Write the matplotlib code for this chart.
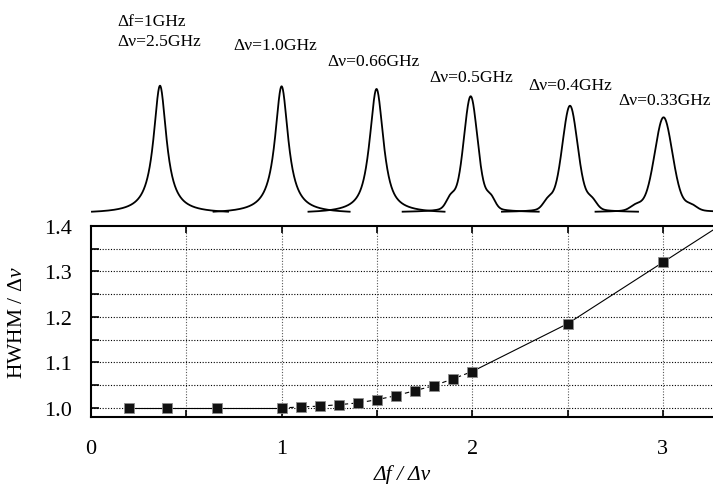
import numpy as np
import matplotlib
matplotlib.use("Agg")
import matplotlib.pyplot as plt
from matplotlib.ticker import MultipleLocator, FixedLocator, FuncFormatter

plt.rcParams['font.family'] = ['Liberation Serif', 'DejaVu Serif']
plt.rcParams['mathtext.fontset'] = 'custom'
plt.rcParams['mathtext.rm'] = 'Liberation Serif'
plt.rcParams['mathtext.it'] = 'Liberation Serif:italic'

# ---------------- data: HWHM / Δν vs Δf / Δν ----------------
x_ratio = [0.2, 0.4, 0.66, 1.0, 1.1, 1.2, 1.3, 1.4, 1.5, 1.6, 1.7, 1.8, 1.9, 2.0, 2.5, 3.0]
hwhm_ratio = [1.000, 1.000, 1.000, 1.000, 1.002, 1.004, 1.007, 1.011, 1.018, 1.027,
              1.038, 1.049, 1.064, 1.080, 1.185, 1.320]
# continuation of the line beyond the last marker (clipped by the frame)
line_ext_x = [3.3]
line_ext_y = [1.401]

# ---------------- data: spectra shown above the plot ----------------
peak_labels = [["Δf=1GHz", "Δν=2.5GHz"], ["Δν=1.0GHz"], ["Δν=0.66GHz"],
               ["Δν=0.5GHz"], ["Δν=0.4GHz"], ["Δν=0.33GHz"]]
peak_center = [0.362, 1.000, 1.498, 1.992, 2.513, 3.004]     # in Δf/Δν axis units
peak_height = [1.000, 0.995, 0.974, 0.916, 0.841, 0.749]     # relative to first peak
peak_hwhm = [0.041, 0.042, 0.043, 0.045, 0.050, 0.057]
peak_lorentz_frac = [1.0, 1.0, 0.85, 0.35, 0.3, 0.25]
side_offset = [0.0, 0.0, 0.0, 0.105, 0.115, 0.145]
side_amp = [0.0, 0.0, 0.0, 0.09, 0.08, 0.05]
window_half = 0.357

W, H = 713, 485
fig = plt.figure(figsize=(W / 100, H / 100), dpi=100)

ax_l, ax_r = 91 / W, 1.0
ax_b, ax_t = (H - 418) / H, (H - 227) / H
ax = fig.add_axes([ax_l, ax_b, ax_r - ax_l, ax_t - ax_b])
xmax = (713 - 91) / 190.6
ax.set_xlim(0, xmax)
ax.set_ylim(0.98, 1.4)

# grid
for gx in np.arange(0.5, 3.01, 0.5):
    ax.axvline(gx, color='0.35', lw=0.8, ls=(0, (1, 1.5)), zorder=1)
for gy in np.arange(1.0, 1.351, 0.05):
    ax.axhline(gy, color='black', lw=0.8, ls=(0, (1, 1.5)), zorder=1)

# line segments: solid, dashed, solid
i1 = x_ratio.index(1.0)
i2 = x_ratio.index(2.0)
ax.plot(x_ratio[:i1 + 1], hwhm_ratio[:i1 + 1], color='black', lw=0.8, zorder=2)
ax.plot(x_ratio[i1:i2 + 1], hwhm_ratio[i1:i2 + 1], color='black', lw=0.8,
        ls=(0, (4, 3)), zorder=2)
ax.plot(x_ratio[i2:] + line_ext_x, hwhm_ratio[i2:] + line_ext_y, color='black',
        lw=0.8, zorder=2)
ax.plot(x_ratio, hwhm_ratio, ls='none', marker='s', ms=7.8, mfc='#111111',
        mec='0.55', mew=0.6, zorder=3)

ax.xaxis.set_major_locator(MultipleLocator(0.5))
ax.xaxis.set_major_formatter(FuncFormatter(
    lambda v, p: f"{int(round(v))}" if abs(v - round(v)) < 1e-6 else ""))
ax.yaxis.set_major_locator(FixedLocator(np.round(np.arange(1.0, 1.401, 0.1), 2)))
ax.yaxis.set_minor_locator(FixedLocator(np.round(np.arange(1.05, 1.40, 0.1), 2)))
ax.yaxis.set_major_formatter(FuncFormatter(lambda v, p: f"{v:.1f}"))
ax.tick_params(axis='x', which='major', direction='in', top=True, bottom=True,
               length=5, width=1.2, labelsize=16, pad=16)
ax.tick_params(axis='y', which='both', direction='in', left=True, right=False,
               length=6, width=1.2, labelsize=16, pad=14)
for s in ['left', 'bottom', 'top']:
    ax.spines[s].set_linewidth(1.5)
ax.spines['right'].set_visible(False)

ax.set_ylabel(r'HWHM / $\mathit{Δν}$', fontsize=15.5, labelpad=12)
ax.set_xlabel('Δf / Δν', fontsize=15.5, fontstyle='italic', labelpad=4)

# ---------------- spectra panel ----------------
base_px, top_px = 212.7, 86.7
axp = fig.add_axes([ax_l, (H - base_px) / H, ax_r - ax_l, (base_px - top_px) / H])
axp.set_xlim(0, xmax)
axp.set_ylim(0, 1)
axp.axis('off')

def profile(d, g, eta):
    u = (d / g) ** 2
    return eta / (1 + u) + (1 - eta) * np.exp(-np.log(2) * u)

for c, h, g, eta, so, sa in zip(peak_center, peak_height, peak_hwhm,
                                 peak_lorentz_frac, side_offset, side_amp):
    xs = np.linspace(c - window_half, c + window_half, 600)
    d = xs - c
    y = profile(d, g, eta)
    if sa > 0:
        y = y + sa * (profile(d - so, g * 0.6, 0.0) + profile(d + so, g * 0.6, 0.0))
    edge = 0.5 * (y[0] + y[-1])
    y = (y - edge) / (y.max() - edge) * h
    axp.plot(xs, y, color='black', lw=1.3, clip_on=False)

# labels above peaks (left x px, baseline y px)
label_pos = [(117, 25.5, 46), (233, 50), (327, 65.5), (429, 82.5), (528, 90), (618, 105)]
for lab, pos in zip(peak_labels, label_pos):
    x0 = pos[0] / W
    for k, t in enumerate(lab):
        fig.text(x0, 1 - pos[1 + k] / H, t, fontsize=12.6, va='baseline', ha='left')

fig.savefig('out.png', dpi=100)
